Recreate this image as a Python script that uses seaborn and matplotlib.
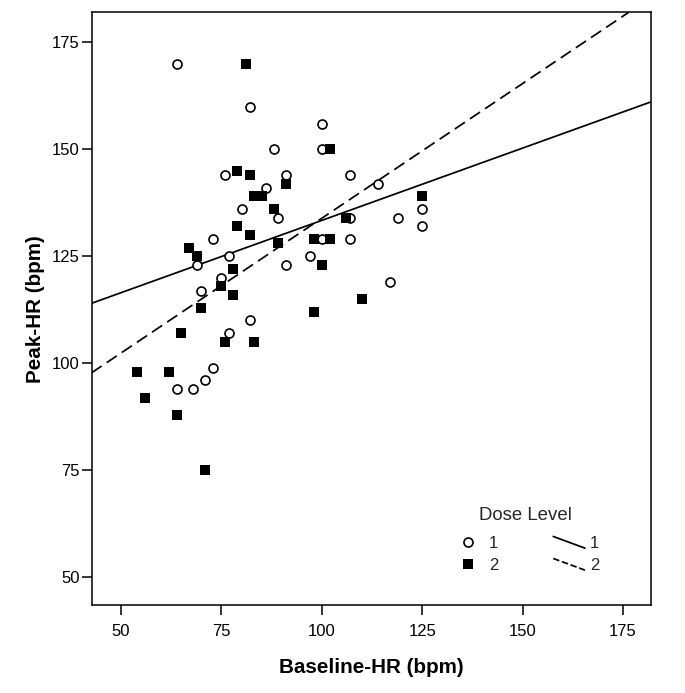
import matplotlib
matplotlib.use("Agg")
import matplotlib.pyplot as plt
from matplotlib.lines import Line2D
from matplotlib.legend_handler import HandlerBase
import seaborn as sns
import pandas as pd
import numpy as np

# ---- data ----
dose1_baseline = [64, 82, 100, 88, 100, 76, 91, 107, 114, 86, 80, 89, 107, 119, 125, 125,
                  73, 100, 107, 69, 77, 97, 91, 75, 70, 117, 82, 77, 73, 71, 64, 68]
dose1_peak = [170, 160, 156, 150, 150, 144, 144, 144, 142, 141, 136, 134, 134, 134, 136, 132,
              129, 129, 129, 123, 125, 125, 123, 120, 117, 119, 110, 107, 99, 96, 94, 94]

dose2_baseline = [81, 102, 79, 82, 91, 83, 85, 88, 106, 79, 82, 67, 69, 78, 89, 98,
                  102, 100, 75, 78, 110, 70, 98, 65, 76, 83, 54, 62, 56, 64, 71, 125]
dose2_peak = [170, 150, 145, 144, 142, 139, 139, 136, 134, 132, 130, 127, 125, 122, 128, 129,
              129, 123, 118, 116, 115, 113, 112, 107, 105, 105, 98, 98, 92, 88, 75, 139]

# fit lines as drawn in the reference (intercept, slope)
fit_dose = ["1", "2"]
fit_intercept = [99.6, 70.9]
fit_slope = [0.338, 0.630]

x_ticks = [50, 75, 100, 125, 150, 175]
y_ticks = [50, 75, 100, 125, 150, 175]

df = pd.DataFrame({
    "Baseline": dose1_baseline + dose2_baseline,
    "Peak": dose1_peak + dose2_peak,
    "Dose": ["1"] * len(dose1_baseline) + ["2"] * len(dose2_baseline),
})

sns.set_theme(style="white")
plt.rcParams["font.family"] = ["Liberation Sans", "DejaVu Sans"]

fig = plt.figure(figsize=(6.85, 6.93), dpi=100)
ax = fig.add_axes([0.1336, 0.127, 0.8164, 0.855])

sns.scatterplot(data=df[df.Dose == "1"], x="Baseline", y="Peak", marker="o",
                s=42, facecolor="white", edgecolor="black", linewidth=1.2, ax=ax, zorder=3)
sns.scatterplot(data=df[df.Dose == "2"], x="Baseline", y="Peak", marker="s",
                s=58, color="black", edgecolor="black", linewidth=0, ax=ax, zorder=4)

ax.set_xlim(42.65, 181.9)
ax.set_ylim(43.5, 182.0)

line_styles = {"1": "-", "2": (0, (7, 3.5))}
line_handles = []
for d, b0, b1 in zip(fit_dose, fit_intercept, fit_slope):
    ls = line_styles[d]
    ax.axline((0, b0), slope=b1, color="black", linewidth=1.25, linestyle=ls, zorder=2)
    line_handles.append(Line2D([], [], color="black", linewidth=1.25, linestyle=ls))

ax.set_xticks(x_ticks)
ax.set_yticks(y_ticks)
ax.tick_params(axis="both", direction="out", length=7.5, width=1.1, color="black",
               labelsize=12, labelcolor="black")
ax.tick_params(axis="x", pad=6, bottom=True)
ax.tick_params(axis="y", pad=1, left=True)
for sp in ax.spines.values():
    sp.set_visible(True)
    sp.set_color("black")
    sp.set_linewidth(1.1)

ax.set_xlabel("Baseline-HR (bpm)", fontsize=14.9, fontweight="bold", color="black", labelpad=14)
ax.set_ylabel("Peak-HR (bpm)", fontsize=14.9, fontweight="bold", color="black", labelpad=5)


class DiagHandler(HandlerBase):
    def create_artists(self, legend, orig_handle, xdescent, ydescent, width, height,
                       fontsize, trans):
        ln = Line2D([-xdescent, -xdescent + width], [-ydescent + height, -ydescent],
                    color=orig_handle.get_color(), linewidth=orig_handle.get_linewidth(),
                    linestyle=orig_handle.get_linestyle())
        ln.set_transform(trans)
        return [ln]


circ = Line2D([], [], marker="o", linestyle="none", markersize=6.5, markerfacecolor="white",
              markeredgecolor="black", markeredgewidth=1.2)
sq = Line2D([], [], marker="s", linestyle="none", markersize=7.6, markerfacecolor="black",
            markeredgecolor="black", markeredgewidth=0)
handles = [circ, sq] + line_handles
labels = ["1", "2", "1", "2"]
hmap = {h: DiagHandler() for h in line_handles}
leg = ax.legend(handles, labels, ncol=2, title="Dose Level", frameon=False,
                loc="upper left", bbox_to_anchor=(0.645, 0.166), fontsize=12,
                title_fontsize=13.4, handlelength=1.9, handleheight=0.7,
                handletextpad=0.3, columnspacing=3.3, labelspacing=0.42,
                borderpad=0, borderaxespad=0, handler_map=hmap)
leg._legend_box.sep = 9

fig.savefig("out.png", dpi=100)
